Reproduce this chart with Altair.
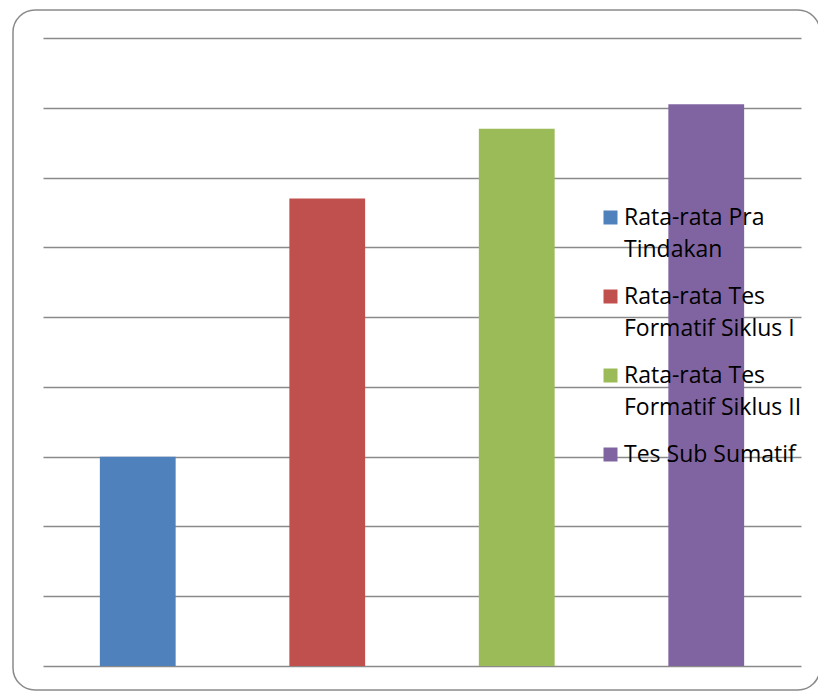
import altair as alt
import pandas as pd

categories = ["Rata-rata Pra\nTindakan", "Rata-rata Tes\nFormatif Siklus I",
              "Rata-rata Tes\nFormatif Siklus II", "Tes Sub Sumatif"]
values = [30, 67, 77, 80.5]
colors = ["#4F81BD", "#C0504D", "#9BBB59", "#8064A2"]

df = pd.DataFrame({"kategori": categories, "nilai": values})

bars = alt.Chart(df).mark_bar().encode(
    x=alt.X("kategori:N", sort=categories, axis=None,
            scale=alt.Scale(paddingInner=0.6, paddingOuter=0.3)),
    y=alt.Y("nilai:Q", scale=alt.Scale(domain=[0, 90], nice=False),
            axis=alt.Axis(values=list(range(0, 100, 10)), labels=False, ticks=False,
                          domain=False, title=None, grid=True, gridColor="#8A8A8A",
                          gridWidth=1.5, gridOpacity=1)),
    color=alt.Color("kategori:N", sort=categories,
                    scale=alt.Scale(domain=categories, range=colors),
                    legend=alt.Legend(title=None, orient="none", legendX=556, legendY=168,
                                      symbolType="square", symbolSize=196, symbolOpacity=1,
                                      symbolStrokeWidth=0,
                                      labelFont="Open Sans", labelFontSize=23, labelColor="#000000",
                                      labelLimit=400, labelBaseline="alphabetic",
                                      labelExpr="split(datum.label, '\\n')",
                                      rowPadding=23, labelOffset=2)),
)

frame = alt.Chart(alt.Data(values=[{}])).mark_rect(
    fill=None, stroke="#8A8A8A", strokeWidth=1.5, cornerRadius=22
).encode(x=alt.value(-30), x2=alt.value(777), y=alt.value(-28), y2=alt.value(652))

chart = alt.layer(bars, frame).properties(
    width=758, height=628,
    autosize=alt.AutoSizeParams(type="none"),
    padding={"left": 43, "top": 38, "right": 17, "bottom": 26},
    background="#FFFFFF",
).configure(
    style={"guide-label": {"lineHeight": 32, "dy": 7}}
).configure_view(strokeWidth=0, stroke="transparent")

chart.save("out.html", embed_options={"renderer": "svg", "actions": False})
